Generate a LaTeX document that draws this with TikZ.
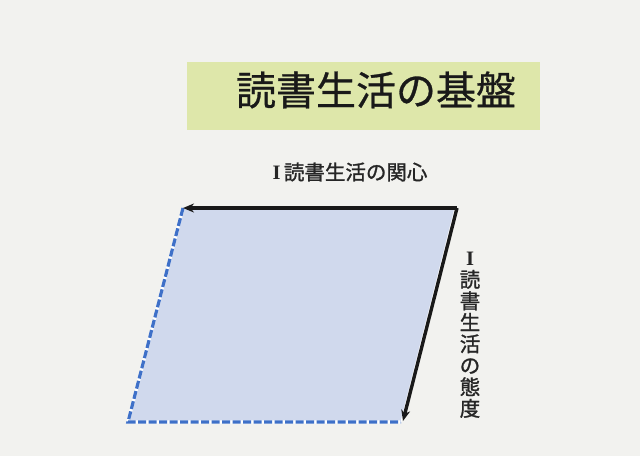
\documentclass[tikz,border=0pt]{standalone}
\usepackage{fontspec}
\newfontfamily\jp{Noto Sans CJK JP}
\newfontfamily\jpt[FakeBold=0.7]{Noto Sans CJK JP}
\newfontfamily\jpm[FakeBold=1.3]{Noto Sans CJK JP}
\newfontfamily\romanI{Liberation Serif}
\usetikzlibrary{arrows.meta}
\definecolor{bgcol}{RGB}{242,242,239}
\definecolor{titlefill}{RGB}{222,231,170}
\definecolor{parfill}{RGB}{208,217,237}
\definecolor{edgeblue}{RGB}{62,112,200}
\newcommand{\RomI}{{\romanI\bfseries I}}
\tikzset{
  titlebox/.style={fill=titlefill, draw=none, minimum width=353pt, minimum height=68pt, inner sep=0pt},
  titletext/.style={font=\jpt\fontsize{40}{46}\selectfont, text=black!90, inner sep=0pt},
  axislabel/.style={font=\jpm\fontsize{20.5}{21.5}\selectfont, text=black!85, inner sep=0pt, align=center},
  axisarrow/.style={draw=black!90, line width=3.4pt, -{Stealth[length=11pt,width=9pt]}},
  dashedge/.style={draw=edgeblue, line width=3.2pt, dash pattern=on 8pt off 2.5pt},
}
\begin{document}
\begin{tikzpicture}[x=1pt,y=-1pt]
\fill[bgcol] (0,0) rectangle (640,456);
\useasboundingbox (0,0) rectangle (640,456);
% title
\node[titlebox] (titlebg) at (363.5,96) {};
\node[titletext] (title) at (376,90) {読書生活の基盤};
% top label
\node[axislabel] (toplabel) at (350,172) {\RomI\,読書生活の関心};
% corners
\coordinate (tl) at (183,208);
\coordinate (tr) at (455,208);
\coordinate (br) at (401,422);
\coordinate (bl) at (128,422);
\coordinate (trr) at (457,208);
\coordinate (brr) at (403,421);
% parallelogram
\fill[parfill] (tl) -- (tr) -- (br) -- (bl) -- cycle;
\draw[white, line width=3.2pt] (tl) -- (bl) -- (br);
\draw[dashedge] (tl) -- (bl) -- (br);
\draw[white, line width=1pt] (tr) -- (br);
% arrows
\draw[axisarrow] (trr) -- (tl);
\draw[axisarrow] (trr) -- (brr);
% right label
\node[axislabel] (rightlabel) at (470,335) {\RomI\\読\\書\\生\\活\\の\\態\\度};
\end{tikzpicture}
\end{document}
